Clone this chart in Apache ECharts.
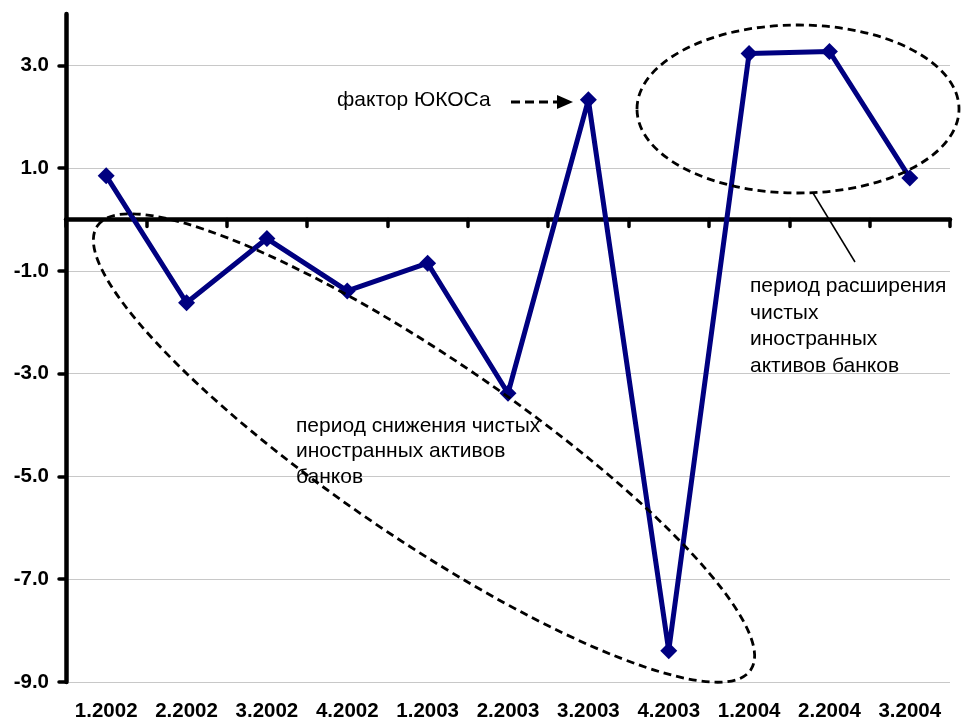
<!DOCTYPE html>
<html>
<head>
<meta charset="utf-8">
<title>Чистые иностранные активы банков</title>
<script src="https://cdn.jsdelivr.net/npm/echarts@6/dist/echarts.min.js"></script>
<style>
  html, body { margin: 0; padding: 0; background: #fff; }
  #chart { width: 964px; height: 722px; }
</style>
</head>
<body>
<div id="chart"></div>
<script>
// Quarters
const categories = ['1.2002', '2.2002', '3.2002', '4.2002', '1.2003', '2.2003',
                    '3.2003', '4.2003', '1.2004', '2.2004', '3.2004'];
// Change in net foreign assets of banks
const values = [0.85, -1.62, -0.37, -1.39, -0.85, -3.38, 2.33, -8.39, 3.23, 3.27, 0.81];
// Labelled ticks of the value axis
const yTickValues = [-9, -7, -5, -3, -1, 1, 3];

const FONT = "'Liberation Sans', Arial, sans-serif";

const chart = echarts.init(document.getElementById('chart'), null, { renderer: 'canvas' });

const dash = [8, 5];

chart.setOption({
  animation: false,
  backgroundColor: '#ffffff',
  grid: { left: 66, right: 14, top: 14, bottom: 40, containLabel: false },
  xAxis: [
    {
      // axis line drawn through zero, ticks between quarters
      type: 'category',
      data: categories,
      position: 'top',
      boundaryGap: true,
      axisLine: { onZero: true, lineStyle: { color: '#000', width: 4.5 } },
      axisTick: { show: true, inside: true, length: 7, lineStyle: { color: '#000', width: 3.5, cap: 'round' } },
      axisLabel: { show: false },
      splitLine: { show: false }
    },
    {
      // quarter labels along the bottom edge
      type: 'category',
      data: categories,
      position: 'bottom',
      boundaryGap: true,
      axisLine: { show: false, onZero: false },
      axisTick: { show: false },
      axisLabel: { show: true, interval: 0, hideOverlap: false, margin: 19, color: '#000',
                   fontSize: 20.5, fontWeight: 'bold', fontFamily: FONT },
      splitLine: { show: false }
    }
  ],
  yAxis: {
    type: 'value',
    min: -9,
    max: 4,
    interval: 1,
    axisLine: { show: true, onZero: false, lineStyle: { color: '#000', width: 4.5 } },
    axisTick: { show: true, length: 7, customValues: yTickValues, lineStyle: { color: '#000', width: 3.5, cap: 'round' } },
    axisLabel: {
      show: true, customValues: yTickValues, margin: 17, color: '#000',
      fontSize: 20.5, fontWeight: 'bold', fontFamily: FONT,
      formatter: v => v.toFixed(1)
    },
    splitLine: { show: true, lineStyle: { color: '#c8c8c8', width: 1 } }
  },
  series: [{
    type: 'line',
    xAxisIndex: 0,
    data: values,
    symbol: 'diamond',
    symbolSize: 17,
    showAllSymbol: true,
    lineStyle: { color: '#000080', width: 5 },
    itemStyle: { color: '#000080' },
    z: 3
  }],
  graphic: [
    // period of decline: slanted dashed ellipse
    {
      type: 'ellipse', x: 424, y: 448, rotation: -34.2 * Math.PI / 180,
      shape: { cx: 0, cy: 0, rx: 395, ry: 90 },
      style: { fill: 'none', stroke: '#000', lineWidth: 2.8, lineDash: dash },
      z: 10
    },
    // period of growth: dashed ellipse
    {
      type: 'ellipse',
      shape: { cx: 798, cy: 109, rx: 161, ry: 84 },
      style: { fill: 'none', stroke: '#000', lineWidth: 2.8, lineDash: dash },
      z: 10
    },
    // leader line to the growth caption
    {
      type: 'line',
      shape: { x1: 813, y1: 193, x2: 855, y2: 262 },
      style: { stroke: '#000', lineWidth: 1.5 },
      z: 10
    },
    // dashed arrow towards the 3.2003 point
    {
      type: 'line',
      shape: { x1: 511, y1: 102, x2: 558, y2: 102 },
      style: { stroke: '#000', lineWidth: 3, lineDash: [9, 5] },
      z: 10
    },
    {
      type: 'polygon',
      shape: { points: [[557, 95], [573, 102], [557, 109]] },
      style: { fill: '#000' },
      z: 10
    },
    {
      type: 'text', x: 337, y: 100,
      style: { text: 'фактор ЮКОСа', fill: '#000', fontSize: 21, fontFamily: FONT,
               verticalAlign: 'middle', align: 'left' },
      z: 10
    },
    {
      type: 'text', x: 750, y: 273,
      style: { text: 'период расширения\nчистых\nиностранных\nактивов банков', fill: '#000',
               fontSize: 21, fontFamily: FONT, lineHeight: 26.5, verticalAlign: 'top', align: 'left' },
      z: 10
    },
    {
      type: 'text', x: 296, y: 413,
      style: { text: 'период снижения чистых\nиностранных активов\nбанков', fill: '#000',
               fontSize: 21, fontFamily: FONT, lineHeight: 25.5, verticalAlign: 'top', align: 'left' },
      z: 10
    }
  ]
});
</script>
</body>
</html>
